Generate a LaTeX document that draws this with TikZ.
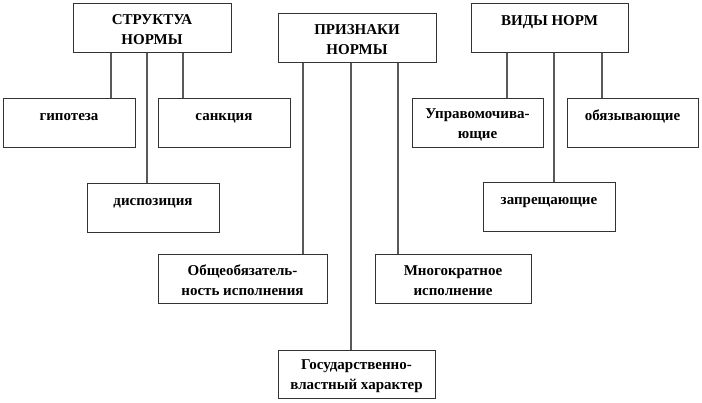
\documentclass[tikz,border=0pt]{standalone}
\usepackage{fontspec}
\setmainfont{Liberation Serif}
\usetikzlibrary{positioning}

\begin{document}
\begin{tikzpicture}[x=1pt, y=-1pt,
    box/.style={draw=black!80, line width=1pt, fill=white, rectangle, minimum height=49pt,
        inner sep=0pt, align=center, font=\fontsize{15}{20}\selectfont\bfseries},
    link/.style={draw=black!65, line width=1.6pt}
]
\useasboundingbox (0,0) rectangle (702,402);

% Main blocks
\node[box, minimum width=158pt] (struct) at (152,27.5) {\rule{0pt}{15pt}СТРУКТУА\\НОРМЫ};
\node[box, minimum width=158pt] (signs) at (357,37.5) {\rule{0pt}{15pt}ПРИЗНАКИ\\НОРМЫ};
\node[box, minimum width=157pt] (kinds) at (549.5,27.5) {\rule{0pt}{15pt}ВИДЫ НОРМ\\\mbox{}};

% Structure
\node[box, minimum width=132pt] (hypo) at (69,122.5) {\rule{0pt}{15pt}гипотеза\\\mbox{}};
\node[box, minimum width=132pt] (sanct) at (224,122.5) {\rule{0pt}{15pt}санкция\\\mbox{}};
\node[box, minimum width=132pt] (disp) at (153,207.5) {\rule{0pt}{15pt}диспозиция\\\mbox{}};

% Kinds
\node[box, minimum width=131pt] (empow) at (477.5,122.5) {\rule{0pt}{15pt}Управомочива-\\ющие};
\node[box, minimum width=131pt] (oblig) at (632.5,122.5) {\rule{0pt}{15pt}обязывающие\\\mbox{}};
\node[box, minimum width=132pt] (forbid) at (549,207) {\rule{0pt}{15pt}запрещающие\\\mbox{}};

% Signs
\node[box, minimum width=169pt] (common) at (242.5,278.5) {\rule{0pt}{15pt}Общеобязатель-\\ность исполнения};
\node[box, minimum width=156pt] (repeat) at (453,278.5) {\rule{0pt}{15pt}Многократное\\исполнение};
\node[box, minimum width=157pt, minimum height=48pt] (state) at (356.5,374) {\rule{0pt}{15pt}Государственно-\\властный характер};

% Connection points under the main blocks
\coordinate (s1) at ([xshift=-41pt]struct.south);
\coordinate (s2) at ([xshift=-5pt]struct.south);
\coordinate (s3) at ([xshift=31pt]struct.south);
\coordinate (p1) at ([xshift=-54pt]signs.south);
\coordinate (p2) at ([xshift=-6pt]signs.south);
\coordinate (p3) at ([xshift=41pt]signs.south);
\coordinate (k1) at ([xshift=-42.5pt]kinds.south);
\coordinate (k2) at ([xshift=4.5pt]kinds.south);
\coordinate (k3) at ([xshift=52.5pt]kinds.south);

% Connections
\draw[link] (s1) -- (s1 |- hypo.north);
\draw[link] (s2) -- (s2 |- disp.north);
\draw[link] (s3) -- (s3 |- sanct.north);

\draw[link] (p1) -- (p1 |- common.north);
\draw[link] (p2) -- (p2 |- state.north);
\draw[link] (p3) -- (p3 |- repeat.north);

\draw[link] (k1) -- (k1 |- empow.north);
\draw[link] (k2) -- (k2 |- forbid.north);
\draw[link] (k3) -- (k3 |- oblig.north);

\end{tikzpicture}
\end{document}
